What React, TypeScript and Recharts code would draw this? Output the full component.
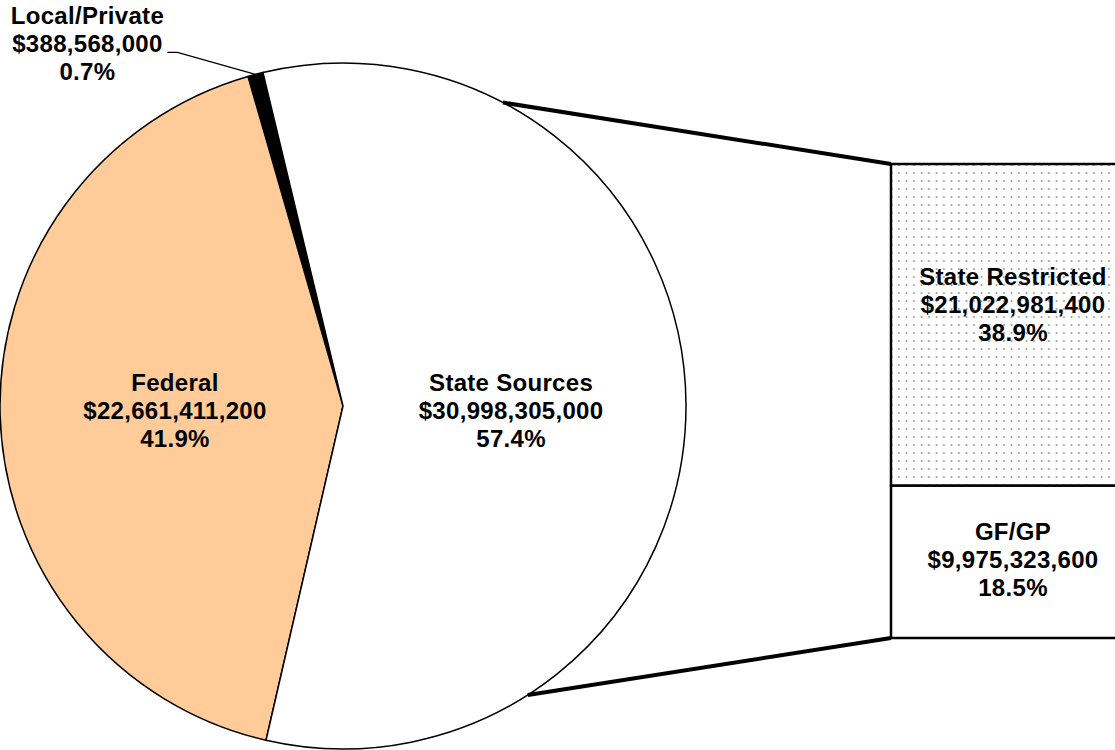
import { PieChart, Pie, Cell, BarChart, Bar, XAxis, YAxis } from 'recharts';

// pie: where the money comes from
const sourceNames = ['Local/Private', 'Federal', 'State Sources'];
const sourceValues = [388568000, 22661411200, 30998305000];
const sourcePercents = ['0.7%', '41.9%', '57.4%'];
const sourceColors = ['#000000', '#FFCC99', '#FFFFFF'];

// bar: breakdown of State Sources (bottom to top)
const stateNames = ['GF/GP', 'State Restricted'];
const stateValues = [9975323600, 21022981400];
const statePercents = ['18.5%', '38.9%'];

const W = 1115;
const H = 750;
const CX = 343;
const CY = 406;
const R = 343;
const START_ANGLE = 103.5;
const CONNECT_TOP = 62.2;
const CONNECT_BOTTOM = -57.4;
const BAR_LEFT = 891;
const BAR_TOP = 164;
const BAR_W = 244;
const BAR_H = 474;
const PAD = 3;
const FONT = "'Liberation Sans', Arial, Helvetica, sans-serif";
const FS = 24;
const LH = 28;
const RAD = Math.PI / 180;

const money = (v: number) => '$' + v.toLocaleString('en-US');

const pieData = sourceNames.map((name, i) => ({
  name,
  value: sourceValues[i],
  pct: sourcePercents[i],
}));

const stateTotal = stateValues.reduce((a, b) => a + b, 0);
const barData = [{ name: 'State Sources', gf: stateValues[0], restricted: stateValues[1] }];

function LabelText({ x, y, lines }: { x: number; y: number; lines: string[] }) {
  return (
    <text
      x={x}
      y={y}
      textAnchor="middle"
      fontFamily={FONT}
      fontSize={FS}
      fontWeight="bold"
      letterSpacing={0.3}
      fill="#000"
    >
      {lines.map((l, i) => (
        <tspan key={i} x={x} y={y + (i - 1) * LH}>
          {l}
        </tspan>
      ))}
    </text>
  );
}

const renderPieLabel = (props: any) => {
  const { midAngle, index } = props;
  const cx = props.cx ?? CX;
  const cy = props.cy ?? CY;
  const r = props.outerRadius ?? R;
  const d = pieData[index];
  const lines = [d.name, money(d.value), d.pct];
  if (index === 0) {
    const ex = cx + r * Math.cos(-midAngle * RAD);
    const ey = cy + r * Math.sin(-midAngle * RAD);
    const ty = ey - 22;
    return (
      <g>
        <polyline
          points={`${ex - 88},${ty} ${ex - 78},${ty} ${ex},${ey}`}
          fill="none"
          stroke="#000"
          strokeWidth={1.3}
        />
        <LabelText x={ex - 168} y={ty} lines={lines} />
      </g>
    );
  }
  const x = cx + r * 0.49 * Math.cos(-midAngle * RAD);
  return <LabelText x={x} y={cy + 13} lines={lines} />;
};

const barLabel = (i: number, dy: number) => (props: any) => {
  const { x, y, width, height } = props;
  const lines = [stateNames[i], money(stateValues[i]), statePercents[i]];
  return <LabelText x={x + width / 2} y={y + height / 2 + dy} lines={lines} />;
};

export default function App() {
  const pt = (a: number) => [CX + R * Math.cos(a * RAD), CY - R * Math.sin(a * RAD)];
  const [tx, ty] = pt(CONNECT_TOP);
  const [bx, by] = pt(CONNECT_BOTTOM);

  return (
    <div style={{ position: 'relative', width: W, height: H, overflow: 'hidden', background: '#fff' }}>
      <style>{'body{margin:0}'}</style>
      <div style={{ position: 'absolute', left: 0, top: 0 }}>
        <PieChart width={W} height={H} margin={{ top: 0, right: 0, bottom: 0, left: 0 }}>
          <Pie
            data={pieData}
            dataKey="value"
            nameKey="name"
            cx={CX}
            cy={CY}
            outerRadius={R}
            startAngle={START_ANGLE}
            endAngle={START_ANGLE + 360}
            stroke="#000"
            strokeWidth={1.5}
            label={renderPieLabel}
            labelLine={false}
            isAnimationActive={false}
          >
            {pieData.map((d, i) => (
              <Cell key={d.name} fill={sourceColors[i]} />
            ))}
          </Pie>
        </PieChart>
      </div>
      <div style={{ position: 'absolute', left: BAR_LEFT - PAD, top: BAR_TOP - PAD }}>
        <BarChart
          width={BAR_W + 2 * PAD}
          height={BAR_H + 2 * PAD}
          data={barData}
          margin={{ top: PAD, right: PAD, bottom: PAD, left: PAD }}
          barCategoryGap={0}
          barGap={0}
        >
          <defs>
            <pattern id="dots" width={7.5} height={8} patternUnits="userSpaceOnUse">
              <rect width={7.5} height={8} fill="#fff" />
              <circle cx={3.5} cy={4} r={0.9} fill="#8c8c8c" />
            </pattern>
          </defs>
          <XAxis dataKey="name" hide />
          <YAxis hide domain={[0, stateTotal]} />
          <Bar
            dataKey="gf"
            stackId="s"
            fill="#fff"
            stroke="#000"
            strokeWidth={2.5}
            label={barLabel(0, 6)}
            isAnimationActive={false}
          />
          <Bar
            dataKey="restricted"
            stackId="s"
            fill="url(#dots)"
            stroke="#000"
            strokeWidth={2.5}
            label={barLabel(1, -12)}
            isAnimationActive={false}
          />
        </BarChart>
      </div>
      <svg
        width={W}
        height={H}
        style={{ position: 'absolute', left: 0, top: 0, pointerEvents: 'none' }}
      >
        <line x1={tx} y1={ty} x2={BAR_LEFT} y2={BAR_TOP} stroke="#000" strokeWidth={4} />
        <line x1={bx} y1={by} x2={BAR_LEFT} y2={BAR_TOP + BAR_H} stroke="#000" strokeWidth={4} />
      </svg>
    </div>
  );
}
